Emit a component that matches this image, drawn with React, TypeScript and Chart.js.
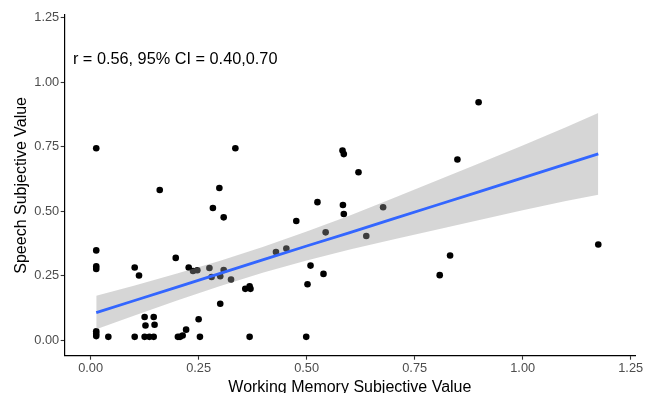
import React, { useEffect, useRef } from 'react';
import { Chart, registerables } from 'chart.js';

Chart.register(...registerables);

// Working Memory subjective value (x) and Speech subjective value (y) per participant
const wmValues = [
  0.013, 0.335, 0.160, 0.298, 0.283, 0.308, 0.013, 0.013, 0.013, 0.102,
  0.112, 0.197, 0.227, 0.237, 0.247, 0.275, 0.280, 0.300, 0.308, 0.325,
  0.358, 0.368, 0.370, 0.300, 0.125, 0.146, 0.127, 0.148, 0.250, 0.221,
  0.013, 0.013, 0.013, 0.041, 0.102, 0.125, 0.136, 0.146, 0.202, 0.207,
  0.213, 0.253, 0.368, 0.583, 0.586, 0.620, 0.525, 0.584, 0.586, 0.476,
  0.677, 0.544, 0.638, 0.429, 0.453, 0.509, 0.539, 0.502, 0.499, 0.898,
  0.849, 0.832, 0.808, 1.175,
];
const speechValues = [
  0.744, 0.744, 0.582, 0.590, 0.512, 0.476, 0.348, 0.286, 0.276, 0.282,
  0.251, 0.319, 0.282, 0.268, 0.271, 0.280, 0.245, 0.248, 0.272, 0.235,
  0.199, 0.209, 0.199, 0.141, 0.090, 0.090, 0.057, 0.060, 0.081, 0.041,
  0.035, 0.025, 0.016, 0.013, 0.013, 0.013, 0.013, 0.013, 0.013, 0.013,
  0.018, 0.013, 0.013, 0.735, 0.721, 0.651, 0.535, 0.524, 0.489, 0.462,
  0.515, 0.418, 0.404, 0.342, 0.355, 0.289, 0.257, 0.217, 0.013, 0.922,
  0.700, 0.328, 0.252, 0.371,
];

// Linear fit and its 95% confidence band
const fitX = [0.013, 0.1, 0.2, 0.3, 0.4, 0.5, 0.6, 0.7, 0.8, 0.9, 1.0, 1.1, 1.175];
const fitY = [0.107, 0.153, 0.206, 0.259, 0.312, 0.365, 0.417, 0.470, 0.523, 0.576, 0.629, 0.682, 0.722];
const bandUpper = [0.172, 0.211, 0.258, 0.308, 0.362, 0.421, 0.483, 0.550, 0.618, 0.686, 0.754, 0.825, 0.880];
const bandLower = [0.042, 0.095, 0.154, 0.210, 0.262, 0.309, 0.351, 0.390, 0.428, 0.466, 0.504, 0.539, 0.564];

const tickValues = [0, 0.25, 0.5, 0.75, 1.0, 1.25];
const tickLabels = ['0.00', '0.25', '0.50', '0.75', '1.00', '1.25'];
const axisMin = -0.06;
const axisMax = 1.26;

const xTitle = 'Working Memory Subjective Value';
const yTitle = 'Speech Subjective Value';
const annotationText = 'r = 0.56, 95% CI = 0.40,0.70';
const annotationX = -0.041;
const annotationY = 1.069;

const FONT = "'Liberation Sans', Arial, Helvetica, sans-serif";

const toXY = (xs: number[], ys: number[]) => xs.map((x, i) => ({ x, y: ys[i] }));

export default function App() {
  const canvasRef = useRef<HTMLCanvasElement | null>(null);

  useEffect(() => {
    const canvas = canvasRef.current;
    if (!canvas) return;

    const annotationPlugin = {
      id: 'corrText',
      afterDatasetsDraw(chart: any) {
        const { ctx, scales } = chart;
        const px = scales.x.getPixelForValue(annotationX);
        const py = scales.y.getPixelForValue(annotationY);
        ctx.save();
        ctx.font = `16.3px ${FONT}`;
        ctx.fillStyle = '#000000';
        ctx.textAlign = 'left';
        ctx.textBaseline = 'alphabetic';
        ctx.fillText(annotationText, px, py);
        ctx.restore();
      },
    };

    const tickCallback = (value: any) => {
      const idx = tickValues.findIndex((t) => Math.abs(t - Number(value)) < 1e-9);
      return idx >= 0 ? tickLabels[idx] : '';
    };

    const axisCommon = (isX: boolean) => ({
      type: 'linear' as const,
      min: axisMin,
      max: axisMax,
      afterBuildTicks: (scale: any) => {
        scale.ticks = tickValues.map((v) => ({ value: v }));
      },
      ticks: {
        callback: tickCallback,
        color: '#4d4d4d',
        font: { family: FONT, size: 12.8 },
        padding: 1.5,
        autoSkip: false,
        maxRotation: 0,
      },
      grid: {
        display: true,
        drawOnChartArea: false,
        drawTicks: true,
        tickLength: 4,
        tickWidth: 1.1,
        tickColor: '#333333',
        color: '#333333',
      },
      border: { display: true, color: '#000000', width: 1.2 },
      title: {
        display: true,
        text: isX ? xTitle : yTitle,
        color: '#000000',
        font: { family: FONT, size: 16 },
        padding: isX ? { top: 0, bottom: 2.4 } : { top: 11.5, bottom: 0 },
      },
    });

    const chart = new Chart(canvas, {
      type: 'scatter',
      data: {
        datasets: [
          {
            label: 'points',
            data: toXY(wmValues, speechValues),
            backgroundColor: '#000000',
            borderColor: '#000000',
            borderWidth: 0,
            pointRadius: 3.3,
            order: 3,
          },
          {
            label: 'upper',
            data: toXY(fitX, bandUpper),
            showLine: true,
            borderWidth: 0,
            borderColor: 'rgba(0,0,0,0)',
            backgroundColor: 'rgba(153,153,153,0.4)',
            pointRadius: 0,
            fill: '+1',
            order: 2,
          },
          {
            label: 'lower',
            data: toXY(fitX, bandLower),
            showLine: true,
            borderWidth: 0,
            borderColor: 'rgba(0,0,0,0)',
            pointRadius: 0,
            fill: false,
            order: 2,
          },
          {
            label: 'fit',
            data: toXY(fitX, fitY),
            showLine: true,
            borderColor: '#3366FF',
            borderWidth: 2.8,
            pointRadius: 0,
            fill: false,
            order: 1,
          },
        ],
      },
      options: {
        animation: false,
        responsive: false,
        maintainAspectRatio: false,
        events: [],
        layout: { padding: { left: 0, right: 10, top: 15, bottom: 0 } },
        plugins: {
          legend: { display: false },
          tooltip: { enabled: false },
          title: { display: false },
        },
        scales: {
          x: {
            ...axisCommon(true),
            position: 'bottom',
            afterFit: (scale: any) => {
              scale.height = 44.3;
            },
          },
          y: {
            ...axisCommon(false),
            position: 'left',
            afterFit: (scale: any) => {
              scale.width = 64.7;
            },
          },
        },
      } as any,
      plugins: [annotationPlugin],
    });

    return () => {
      chart.destroy();
    };
  }, []);

  return (
    <div style={{ position: 'fixed', left: 0, top: 0, width: 645, height: 400, background: '#ffffff' }}>
      <canvas ref={canvasRef} width={645} height={400} style={{ display: 'block', width: 645, height: 400 }} />
    </div>
  );
}
